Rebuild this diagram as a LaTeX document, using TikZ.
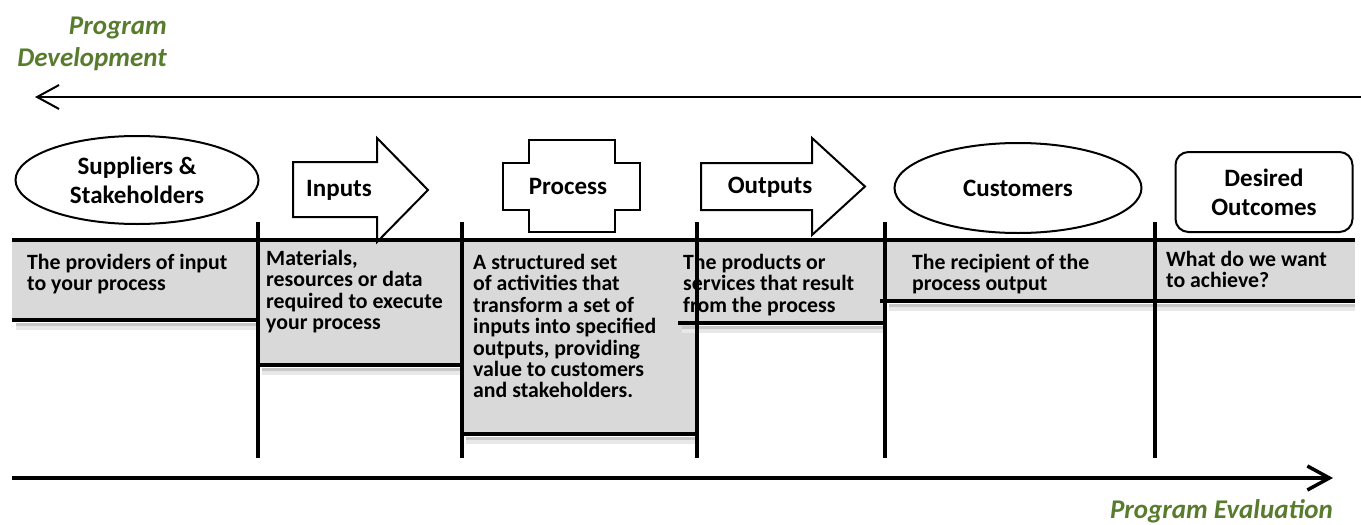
\documentclass[tikz,border=0pt]{standalone}
\usepackage{fontspec}
\setmainfont{Carlito}
\usetikzlibrary{arrows.meta}
\usetikzlibrary{shapes.geometric}
\tikzset{>={Straight Barb[length=22pt,width=24pt]}}
\definecolor{g1}{HTML}{587B2E}
\definecolor{f1}{HTML}{D9D9D9}
\tikzstyle{title}=[text=g1,font=\bfseries\itshape\fontsize{27}{32}\selectfont,align=right,inner sep=0pt]
\tikzstyle{head}=[font=\bfseries\fontsize{25}{29}\selectfont,align=center]
\tikzstyle{outline}=[draw,line width=2pt]
\tikzstyle{desc}=[font=\bfseries\fontsize{21.8}{21.4}\selectfont,align=left,inner sep=0pt,anchor=north west]
\tikzstyle{bar}=[line width=4.5pt]
\tikzstyle{soft}=[line width=3pt,black!22]
\tikzstyle{softer}=[line width=4pt,black!9]

\begin{document}
\begin{tikzpicture}[x=1pt,y=-1pt]
  \useasboundingbox (0,0) rectangle (1361,525);
  \def\t{240}
  \def\vt{222}
  \def\vb{458}
  % grey bands
  \fill[f1] (12,\t) rectangle (258,320);
  \fill[f1] (258,\t) rectangle (462,365);
  \fill[f1] (462,\t) rectangle (697,434);
  \fill[f1] (697,\t) rectangle (885,323);
  \fill[f1] (885,\t) rectangle (1355,301);
  \draw[softer] (16,328) -- (256,328);
  \draw[softer] (262,373) -- (460,373);
  \draw[softer] (466,442) -- (695,442);
  \draw[softer] (682,331) -- (883,331);
  \draw[softer] (889,309) -- (1355,309);
  \draw[soft] (16,324) -- (256,324);
  \draw[soft] (262,369) -- (460,369);
  \draw[soft] (466,438) -- (695,438);
  \draw[soft] (682,327) -- (883,327);
  \draw[soft] (889,305) -- (1355,305);
  % rules
  \draw[bar] (12,\t) -- (1355,\t);
  \draw[bar] (12,320) -- (258,320);
  \draw[bar] (258,365) -- (462,365);
  \draw[bar] (462,434) -- (697,434);
  \draw[bar] (678,323) -- (885,323);
  \draw[bar] (880,301) -- (1355,301);
  \draw[bar] (258,\vt) -- (258,\vb);
  \draw[bar] (462,\vt) -- (462,\vb);
  \draw[bar] (697,\vt) -- (697,\vb);
  \draw[bar] (885,\vt) -- (885,\vb);
  \draw[bar] (1155,\vt) -- (1155,\vb);
  % shapes
  \node[outline,ellipse,head,minimum width=243pt,minimum height=88pt] (sup) at (137,180) {Suppliers \&\\Stakeholders};
  \draw[outline] (293,162) -- (377,162) -- (377,138) -- (428,190) -- (377,242) -- (377,217) -- (293,217) -- cycle;
  \node[head] (inp) at (339,190) {Inputs};
  \draw[outline] (529,140) -- (615,140) -- (615,163) -- (640,163) -- (640,210) -- (615,210) -- (615,232) -- (529,232) -- (529,210) -- (503,210) -- (503,163) -- (529,163) -- cycle;
  \node[head] (proc) at (568,186) {Process};
  \draw[outline] (701,163) -- (812,163) -- (812,138) -- (865,186.5) -- (812,235) -- (812,210) -- (701,210) -- cycle;
  \node[head] (outp) at (770,187) {Outputs};
  \node[outline,ellipse,head,minimum width=247pt,minimum height=90pt] (cust) at (1018,188) {Customers};
  \node[outline,rounded corners=13pt,head,minimum width=177pt,minimum height=80pt] (goal) at (1264,192) {Desired\\Outcomes};
  % descriptions
  \node[desc] (dsup) at (27,254) {The providers of input\\to your process};
  \node[desc] (dinp) at (266,250) {Materials,\\resources or data\\required to execute\\your process};
  \node[desc] (dproc) at (473,254) {A structured set\\of activities that\\transform a set of\\inputs into specified\\outputs, providing\\value to customers\\and stakeholders.};
  \node[desc] (doutp) at (683,254) {The products or\\services that result\\from the process};
  \node[desc] (dcust) at (912,254) {The recipient of the\\process output};
  \node[desc] (dgoal) at (1166,251) {What do we want\\to achieve?};
  % direction arrows
  \coordinate (dev) at (1361,97);
  \coordinate (devend) at (35,97);
  \draw[->,line width=2pt] (dev) -- (devend);
  \coordinate (eva) at (12,478);
  \coordinate (evaend) at (1333,478);
  \draw[->,line width=3.5pt] (eva) -- (evaend);
  \node[title,anchor=north east] (pd) at (167,17) {Program\\Development};
  \node[title,anchor=base east] (pe) at (1333,518) {Program Evaluation};
\end{tikzpicture}
\end{document}
